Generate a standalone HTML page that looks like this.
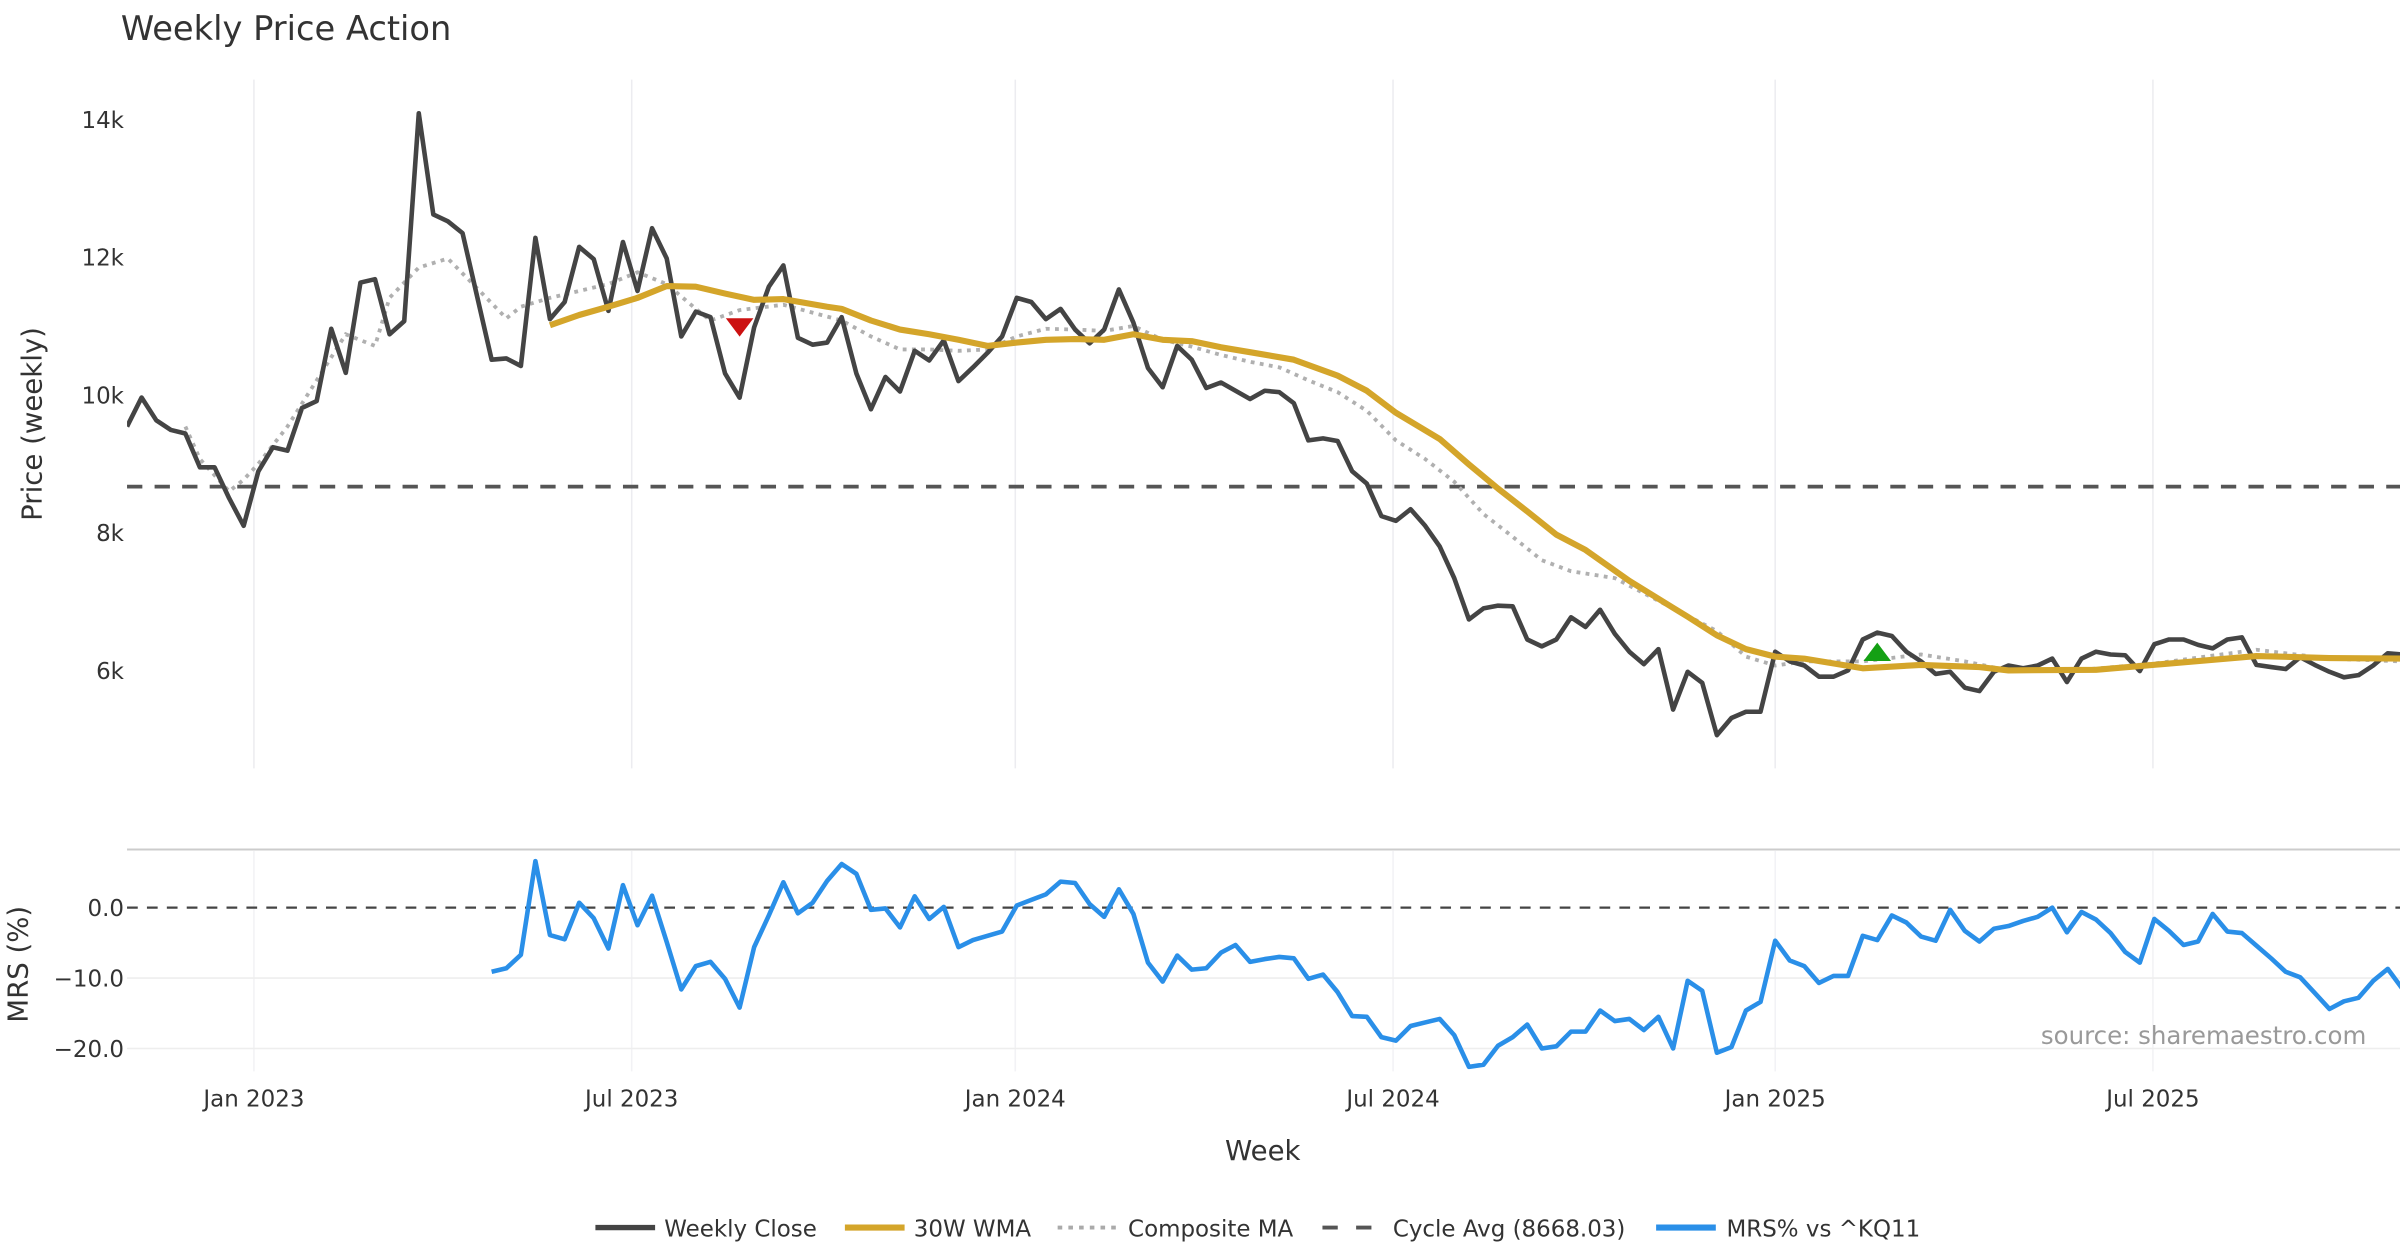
<!DOCTYPE html>
<html><head><meta charset="utf-8"><title>Weekly Price Action</title>
<style>
html,body{margin:0;padding:0;background:#fff;}
svg{display:block;font-family:"DejaVu Sans","Liberation Sans",sans-serif;}
</style></head>
<body>
<svg id="chart" width="2400" height="1260" viewBox="0 0 1568 823.2" xmlns="http://www.w3.org/2000/svg">
<rect x="0" y="0" width="1568" height="823.2" fill="#fff"/>
<text x="79" y="26" font-size="22" fill="#333">Weekly Price Action</text>
<g id="grid"></g>
<g id="series"></g>
<g id="axes"></g>
<text transform="translate(27,277) rotate(-90)" text-anchor="middle" font-size="18" fill="#333">Price (weekly)</text>
<text transform="translate(18,630) rotate(-90)" text-anchor="middle" font-size="18" fill="#333">MRS (%)</text>
<text x="825" y="758" text-anchor="middle" font-size="18" fill="#333">Week</text>
<text x="1546" y="682" text-anchor="end" font-size="16" fill="#999">source: sharemaestro.com</text>
<g font-size="15" fill="#333">
 <g><line x1="389" y1="802" x2="428" y2="802" stroke="#444" stroke-width="3.5"/><text x="434" y="808">Weekly Close</text></g>
 <g><line x1="552" y1="802" x2="591" y2="802" stroke="#d4a52a" stroke-width="4"/><text x="597" y="808">30W WMA</text></g>
 <g><line x1="691" y1="802" x2="730" y2="802" stroke="#aaa" stroke-width="2.5" stroke-dasharray="3,4"/><text x="737" y="808">Composite MA</text></g>
 <g><line x1="864" y1="802" x2="903" y2="802" stroke="#555" stroke-width="2.5" stroke-dasharray="10,12"/><text x="910" y="808">Cycle Avg (8668.03)</text></g>
 <g><line x1="1082" y1="802" x2="1121" y2="802" stroke="#2a8fe8" stroke-width="4"/><text x="1128" y="808">MRS% vs ^KQ11</text></g>
</g>
</svg>
<script>
const closeVals=[9540,9963,9630,9490,9440,8950,8950,8500,8100,8890,9240,9190,9810,9910,10960,10320,11630,11680,10880,11070,14090,12620,12520,12350,11430,10510,10530,10420,12280,11100,11350,12150,11970,11220,12220,11510,12420,11980,10850,11210,11130,10310,9960,10980,11570,11880,10830,
10730,10760,11130,10310,9790,10260,10050,10640,10500,10790,10200,10400,10610,10850,11410,11350,11100,11250,10950,10750,10950,11530,11050,10390,10110,10710,10510,10100,10180,10060,9940,10060,10040,9880,9340,9370,9330,8890,8710,8240,8170,8340,8100,7800,7340,6740,6900,6940,6930,6450,6350,6450,6770,
6630,6880,6530,6270,6090,6310,5430,5980,5820,5060,5310,5400,5400,6270,6130,6070,5910,5910,6000,6450,6550,6500,6270,6130,5950,5980,5750,5700,5980,6070,6030,6070,6170,5830,6170,6270,6230,6220,5990,6380,6450,6450,6370,6320,6450,6480,6080,6050,6020,6190,6080,5980,5900,5930,6070,6250,6230];
const wmaIdx=[29,31,33,35,37,39,41,43,45,48,49,51,53,55,57,59,61,63,65,67,69,71,73,75,77,80,83,85,87,90,92,94,96,98,100,103,106,107,109,111,113,115,119,123,127,129,135,140,146,151,156];
const wmaVals=[11010,11160,11280,11410,11580,11570,11470,11380,11390,11280,11250,11080,10950,10880,10800,10710,10760,10800,10810,10800,10880,10800,10780,10690,10620,10510,10280,10060,9740,9360,8990,8640,8310,7970,7750,7300,6910,6780,6510,6310,6200,6170,6030,6080,6050,6000,6010,6100,6210,6180,6170];
const compIdx=[4,5,7,8,9,11,13,15,17,18,20,22,24,26,27,29,31,33,35,37,39,40,42,45,49,51,53,55,57,59,61,63,65,67,69,71,73,75,77,79,81,83,85,87,89,91,93,95,97,99,102,106,109,111,113,115,119,123,126,129,134,139,146,151,156];
const compVals=[9540,9070,8600,8770,9000,9540,10210,10880,10710,11410,11850,11980,11550,11110,11280,11410,11510,11610,11780,11610,11250,11080,11230,11310,11080,10850,10660,10660,10640,10660,10850,10960,10950,10930,11000,10800,10700,10580,10480,10400,10210,10040,9770,9340,9070,8740,8270,7940,7600,7440,7340,6900,6570,6200,6070,6130,6130,6230,6130,6000,6010,6100,6300,6170,6130];
const mrsStart=25;
const mrsVals=[-9.1,-8.6,-6.7,6.6,-3.9,-4.5,0.7,-1.5,-5.8,3.2,-2.5,1.7,-4.9,-11.6,-8.3,-7.7,-10.1,-14.2,-5.6,-1.1,3.6,-0.8,0.7,3.8,6.2,4.8,-0.3,-0.1,-2.8,1.6,-1.6,0.1,-5.6,-4.6,-4.0,-3.4,0.3,1.1,1.9,3.7,3.5,0.5,-1.3,2.6,-0.9,-7.8,-10.5,-6.8,-8.8,-8.6,-6.4,-5.3,-7.7,-7.3,-7.0,-7.2,-10.1,-9.5,-12.0,-15.4,-15.5,-18.4,-18.9,-16.8,
-16.3,-15.8,-18.1,-22.6,-22.3,-19.6,-18.4,-16.6,-20.0,-19.7,-17.6,-17.6,-14.6,-16.1,-15.8,-17.4,-15.5,-20.0,-10.4,-11.8,-20.6,-19.8,-14.6,-13.4,-4.7,-7.5,-8.3,-10.7,-9.7,-9.7,-4.0,-4.6,-1.1,-2.1,-4.1,-4.7,-0.3,-3.3,-4.8,-3.0,-2.6,-1.9,-1.3,0.0,-3.5,-0.6,-1.7,-3.6,-6.3,-7.8,-1.6,-3.3,-5.3,-4.8,-0.9,-3.4,-3.6,-5.4,-7.2,-9.1,-9.9,-12.1,-14.4,-13.3,-12.8,-10.4,-8.7,-11.5];
const cycleAvg=8668.03;
const sellIdx=[42], sellVal=[10980];
const buyIdx=[120], buyVal=[6270];
const priceTicks=[6000,8000,10000,12000,14000];
const priceTickLabels=["6k","8k","10k","12k","14k"];
const mrsTicks=[0,-10,-20];
const mrsTickLabels=["0.0","\u221210.0","\u221220.0"];
const dateTickIdx=[8.7,34.6,60.9,86.8,113.0,138.9];
const dateTickLabels=["Jan 2023","Jul 2023","Jan 2024","Jul 2024","Jan 2025","Jul 2025"];

const NS="http://www.w3.org/2000/svg";
function xS(i){return 83+i*9.529;}
function yP(v){return 78+(14000-v)*0.045;}
function yM(v){return 593-v*4.6;}
function mk(tag,attrs,parent){const e=document.createElementNS(NS,tag);for(const k in attrs)e.setAttribute(k,attrs[k]);parent.appendChild(e);return e;}
const grid=document.getElementById('grid'),series=document.getElementById('series'),axes=document.getElementById('axes');
const clipDefs=mk('defs',{},document.getElementById('chart'));
const cp=mk('clipPath',{id:'pclip'},clipDefs);mk('rect',{x:83,y:50,width:1485,height:454},cp);
const cm=mk('clipPath',{id:'mclip'},clipDefs);mk('rect',{x:83,y:555,width:1485,height:146},cm);

dateTickIdx.forEach((d,k)=>{
  const x=xS(d);
  const g1=mk('line',{x1:x,y1:52,x2:x,y2:502,stroke:'#ececf0','stroke-width':1},grid);
  
  
  const g2=mk('line',{x1:x,y1:556,x2:x,y2:700,stroke:'#f2f2f5','stroke-width':1},grid);
  
  
  const t=mk('text',{x:x,y:723,'text-anchor':'middle','font-size':15,fill:'#333'},axes);
  t.textContent=dateTickLabels[k];
  
  
});
priceTicks.forEach((v,k)=>{
  const t=mk('text',{x:81,y:yP(v)+5.5,'text-anchor':'end','font-size':15,fill:'#333'},axes);
  t.textContent=priceTickLabels[k];
  
  
});
mrsTicks.forEach((v,k)=>{
  if(v!==0){const g=mk('line',{x1:83,y1:yM(v),x2:1568,y2:yM(v),stroke:'#eeeeee','stroke-width':1},grid);
  
  }
  const t=mk('text',{x:81,y:yM(v)+5.5,'text-anchor':'end','font-size':15,fill:'#333'},axes);
  t.textContent=mrsTickLabels[k];
  
  
});
const sep=mk('line',{x1:83,y1:555,x2:1568,y2:555,stroke:'#cccccc','stroke-width':1.3},grid);



function pts(idx,vals,yf){return idx.map((i,k)=>xS(i).toFixed(1)+','+yf(vals[k]).toFixed(1)).join(' ');}
const allIdx=closeVals.map((_,i)=>i);
const ca=mk('line',{x1:83,y1:yP(cycleAvg),x2:1568,y2:yP(cycleAvg),stroke:'#555','stroke-width':2.5,'stroke-dasharray':'10,8'},series);


const comp=mk('polyline',{points:pts(compIdx,compVals,yP),fill:'none',stroke:'#b0b0b0','stroke-width':2.5,'stroke-dasharray':'2.5,3.5','clip-path':'url(#pclip)'},series);


const cl=mk('polyline',{points:pts(allIdx,closeVals,yP),fill:'none',stroke:'#444','stroke-width':3,'stroke-linejoin':'round','clip-path':'url(#pclip)'},series);


const wm=mk('polyline',{points:pts(wmaIdx,wmaVals,yP),fill:'none',stroke:'#d4a52a','stroke-width':4,'stroke-linejoin':'round','clip-path':'url(#pclip)'},series);


sellIdx.forEach((i,k)=>{const x=xS(i),y=yP(sellVal[k]);
  const m=mk('polygon',{points:`${x-9},${y-6} ${x+9},${y-6} ${x},${y+6}`,fill:'#cc1111'},series);
  
  });
buyIdx.forEach((i,k)=>{const x=xS(i),y=yP(buyVal[k]);
  const m=mk('polygon',{points:`${x-9},${y+6} ${x+9},${y+6} ${x},${y-6}`,fill:'#14a014'},series);
  
  });
const z=mk('line',{x1:83,y1:yM(0),x2:1568,y2:yM(0),stroke:'#444','stroke-width':1.5,'stroke-dasharray':'7,6'},series);


const mIdx=mrsVals.map((_,k)=>k+mrsStart);
const mr=mk('polyline',{points:pts(mIdx,mrsVals,yM),fill:'none',stroke:'#2a8fe8','stroke-width':3,'stroke-linejoin':'round','clip-path':'url(#pclip)'.replace('pclip','mclip')},series);


</script>
</body></html>
